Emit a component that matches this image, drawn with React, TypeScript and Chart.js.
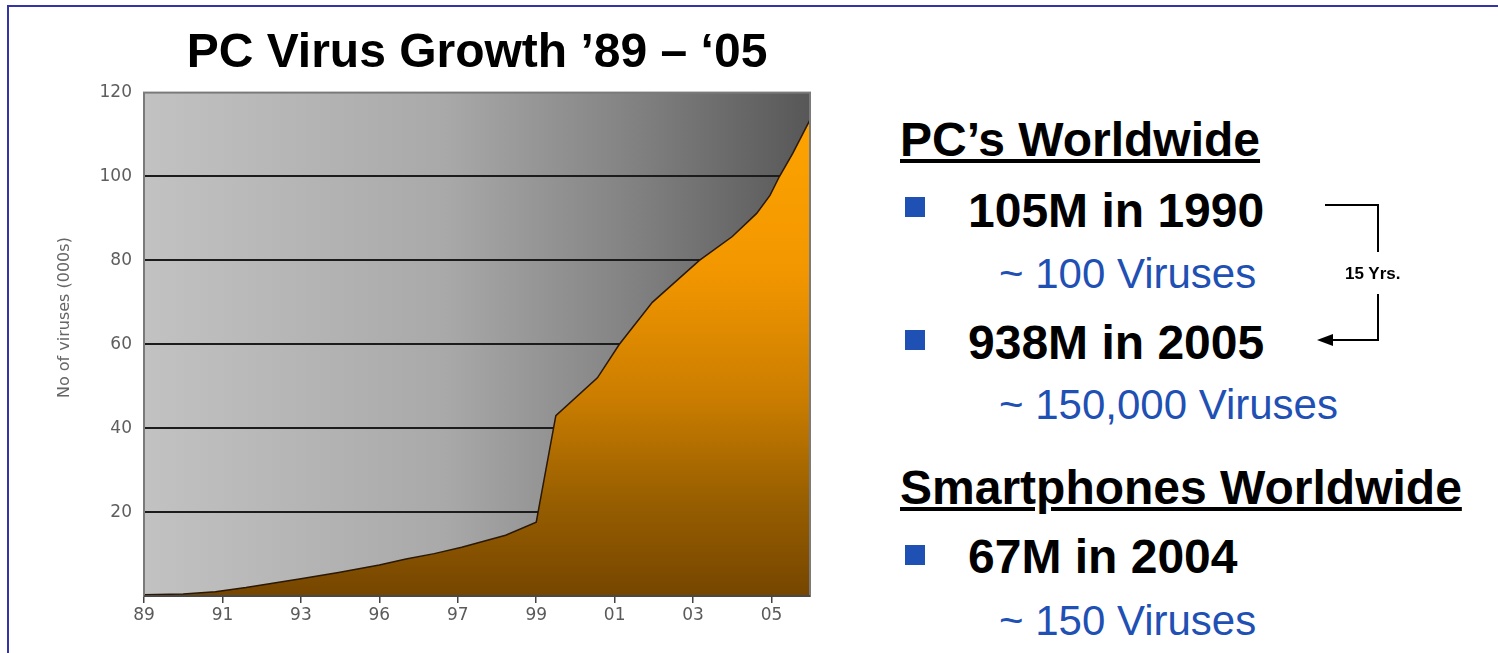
import React, { useEffect, useRef } from "react";
import { Chart, registerables } from "chart.js";

Chart.register(...registerables);

// ---- data ----
const chartTitle = "PC Virus Growth ’89 – ‘05";
const yAxisTitle = "No of viruses (000s)";
const xTickLabels = ["89", "91", "93", "96", "97", "99", "01", "03", "05"];
const yTickValues = [20, 40, 60, 80, 100, 120];
// position along the x axis (0 = '89 tick, 8 = '05 tick)
const curvePositions = [0, 0.5, 0.91, 1.3, 1.62, 2.0, 2.48, 3.0, 3.34, 3.7, 4.05, 4.61, 5.0, 5.25, 5.78, 6.06, 6.48, 7.08, 7.5, 7.81, 7.98, 8.1, 8.27, 8.49];
// number of viruses (thousands)
const virusCounts = [0.3, 0.5, 1.0, 2.0, 3.0, 4.1, 5.6, 7.4, 8.8, 10.1, 11.6, 14.5, 17.6, 43, 52, 60, 70, 80, 85.7, 91.2, 95.5, 100, 105.5, 113.5];

const FONT = '"Liberation Sans", Arial, Helvetica, sans-serif';
const BLUE = "#1f50b4";

const bgPlugin = {
  id: "plotBackground",
  beforeDraw(chart: any) {
    const { ctx, chartArea } = chart;
    if (!chartArea) return;
    const g = ctx.createLinearGradient(chartArea.left, 0, chartArea.right, 0);
    g.addColorStop(0, "#c2c2c2");
    g.addColorStop(0.45, "#a9a9a9");
    g.addColorStop(0.72, "#848484");
    g.addColorStop(1, "#575757");
    ctx.save();
    ctx.fillStyle = g;
    ctx.fillRect(chartArea.left, chartArea.top, chartArea.right - chartArea.left, chartArea.bottom - chartArea.top);
    ctx.restore();
  },
  afterDatasetsDraw(chart: any) {
    const { ctx, chartArea } = chart;
    ctx.save();
    ctx.strokeStyle = "#7a7a7a";
    ctx.lineWidth = 2;
    ctx.strokeRect(chartArea.left, chartArea.top, chartArea.right - chartArea.left, chartArea.bottom - chartArea.top);
    ctx.strokeStyle = "#3a3a3a";
    ctx.lineWidth = 1.5;
    ctx.beginPath();
    ctx.moveTo(chartArea.left, chartArea.bottom);
    ctx.lineTo(chartArea.right, chartArea.bottom);
    ctx.stroke();
    ctx.restore();
  },
  afterDraw(chart: any) {
    const { ctx, chartArea } = chart;
    ctx.save();
    ctx.translate(chartArea.left - 79, chartArea.top + 225);
    ctx.rotate(-Math.PI / 2);
    ctx.font = '16px "DejaVu Sans"';
    ctx.fillStyle = "#666";
    ctx.textAlign = "center";
    ctx.textBaseline = "middle";
    ctx.fillText(yAxisTitle, 0, 0);
    ctx.restore();
  },
};

function VirusChart() {
  const ref = useRef<HTMLCanvasElement | null>(null);
  useEffect(() => {
    if (!ref.current) return;
    const chart = new Chart(ref.current, {
      type: "line",
      data: {
        datasets: [
          {
            data: curvePositions.map((x, i) => ({ x, y: virusCounts[i] })),
            borderColor: "#2a1804",
            borderWidth: 1.5,
            pointRadius: 0,
            fill: "origin",
            tension: 0,
            backgroundColor: (c: any) => {
              const ca = c.chart.chartArea;
              if (!ca) return "#c07000";
              const g = c.chart.ctx.createLinearGradient(0, ca.top, 0, ca.bottom);
              g.addColorStop(0, "#ffa500");
              g.addColorStop(0.35, "#f39700");
              g.addColorStop(0.6, "#cc7e00");
              g.addColorStop(0.8, "#9a6000");
              g.addColorStop(1, "#764600");
              return g;
            },
          },
        ],
      },
      options: {
        responsive: false,
        animation: false,
        layout: { padding: { left: 0, right: 70, top: 0, bottom: 0 } },
        plugins: {
          legend: { display: false },
          tooltip: { enabled: false },
          title: {
            display: true,
            text: chartTitle,
            fullSize: false,
            color: "#000",
            font: { family: FONT, size: 48, weight: "bold" },
            padding: { top: 25, bottom: 10 },
          },
        },
        scales: {
          x: {
            type: "linear",
            min: 0,
            max: 8.49,
            afterBuildTicks: (s: any) => {
              s.ticks = xTickLabels.map((_, i) => ({ value: i }));
            },
            afterFit: (s: any) => {
              s.height = 57;
            },
            ticks: {
              autoSkip: false,
              maxRotation: 0,
              padding: 2,
              color: "#5a5a5a",
              font: { family: '"DejaVu Sans"', size: 17 },
              callback: (v: any) => xTickLabels[Math.round(Number(v))] ?? "",
            },
            grid: { display: true, drawOnChartArea: false, drawTicks: true, tickLength: 7, color: "#444", lineWidth: 1.5 },
            border: { display: true, color: "#3a3a3a", width: 1.5 },
          },
          y: {
            type: "linear",
            min: 0,
            max: 120,
            afterBuildTicks: (s: any) => {
              s.ticks = [0, ...yTickValues].map((v) => ({ value: v }));
            },
            afterFit: (s: any) => {
              s.width = 144;
            },
            ticks: {
              padding: 12,
              color: "#5e5e5e",
              font: { family: '"DejaVu Sans"', size: 17 },
              callback: (v: any) => (yTickValues.includes(Number(v)) ? String(v) : ""),
            },
            grid: {
              drawTicks: false,
              lineWidth: 2,
              color: (c: any) => (c.tick && (c.tick.value === 0 || c.tick.value === 120) ? "rgba(0,0,0,0)" : "#1c1c1c"),
            },
            border: { display: true, color: "#7a7a7a", width: 2 },
          },
        },
      },
      plugins: [bgPlugin],
    } as any);
    return () => chart.destroy();
  }, []);
  return <canvas ref={ref} width={880} height={653} style={{ position: "absolute", left: 0, top: 0 }} />;
}

const textBase: React.CSSProperties = {
  position: "absolute",
  fontFamily: FONT,
  lineHeight: 1,
  whiteSpace: "nowrap",
  margin: 0,
};

function Bullet({ top }: { top: number }) {
  return <div style={{ position: "absolute", left: 905, top, width: 20, height: 20, background: BLUE }} />;
}

export default function App() {
  return (
    <div style={{ position: "fixed", left: 0, top: 0, width: 1498, height: 653, background: "#fff", overflow: "hidden" }}>
      <VirusChart />
      {/* slide frame */}
      <div style={{ position: "absolute", left: 7, top: 5, width: 1491, height: 2, background: "#3434a6" }} />
      <div style={{ position: "absolute", left: 7, top: 5, width: 2, height: 648, background: "#3434a6" }} />

      <div style={{ ...textBase, left: 900, top: 116, fontSize: 48, fontWeight: "bold", textDecoration: "underline", color: "#000" }}>PC’s Worldwide</div>
      <Bullet top={197} />
      <div style={{ ...textBase, left: 968, top: 187, fontSize: 48, fontWeight: "bold", color: "#000" }}>105M in 1990</div>
      <div style={{ ...textBase, left: 999, top: 253, fontSize: 42, color: BLUE }}>~ 100 Viruses</div>
      <Bullet top={330} />
      <div style={{ ...textBase, left: 968, top: 319, fontSize: 48, fontWeight: "bold", color: "#000" }}>938M in 2005</div>
      <div style={{ ...textBase, left: 999, top: 384, fontSize: 42, color: BLUE }}>~ 150,000 Viruses</div>
      <div style={{ ...textBase, left: 900, top: 464, fontSize: 48, fontWeight: "bold", textDecoration: "underline", color: "#000" }}>Smartphones Worldwide</div>
      <Bullet top={545} />
      <div style={{ ...textBase, left: 968, top: 533, fontSize: 48, fontWeight: "bold", color: "#000" }}>67M in 2004</div>
      <div style={{ ...textBase, left: 999, top: 600, fontSize: 42, color: BLUE }}>~ 150 Viruses</div>

      <svg width={1498} height={653} style={{ position: "absolute", left: 0, top: 0, pointerEvents: "none" }}>
        <polyline points="1325,205 1378,205 1378,252" fill="none" stroke="#000" strokeWidth={2} />
        <polyline points="1378,294 1378,340 1330,340" fill="none" stroke="#000" strokeWidth={2} />
        <polygon points="1317,340 1333,334 1333,346" fill="#000" />
      </svg>
      <div style={{ ...textBase, left: 1345, top: 265, fontSize: 17, fontWeight: "bold", color: "#000" }}>15 Yrs.</div>
    </div>
  );
}
